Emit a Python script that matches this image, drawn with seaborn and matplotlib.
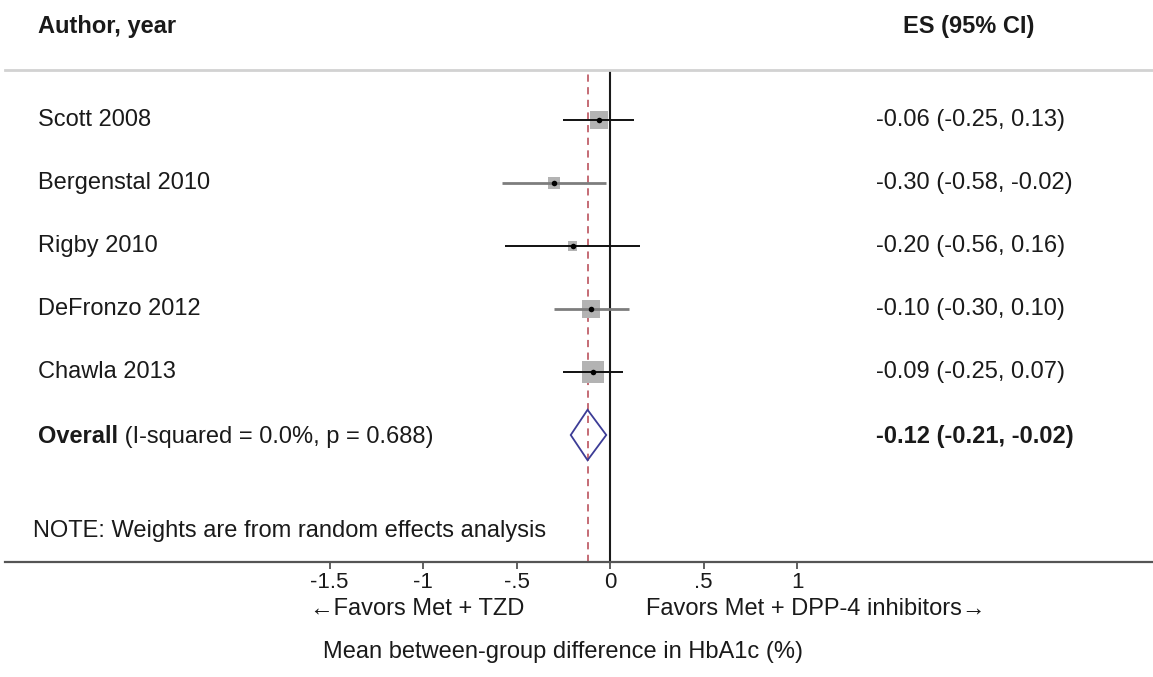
import matplotlib
matplotlib.use("Agg")
import matplotlib.pyplot as plt
import matplotlib.transforms as mtransforms
import pandas as pd
import seaborn as sns

# Study-level results: mean difference in HbA1c (%) with 95% CI
studies = ["Scott 2008", "Bergenstal 2010", "Rigby 2010", "DeFronzo 2012", "Chawla 2013"]
es = [-0.06, -0.30, -0.20, -0.10, -0.09]
ci_low = [-0.25, -0.58, -0.56, -0.30, -0.25]
ci_high = [0.13, -0.02, 0.16, 0.10, 0.07]
weights = [24.6, 11.4, 6.9, 22.3, 34.8]  # random-effects weights (%)

# Pooled estimate
overall_es = -0.12
overall_low = -0.21
overall_high = -0.02
i_squared = "0.0%"
p_het = "0.688"

tick_values = [-1.5, -1, -0.5, 0, 0.5, 1]
tick_labels = ["-1.5", "-1", "-.5", "0", ".5", "1"]

sns.set_theme(style="white")
plt.rcParams["font.family"] = ["Liberation Sans", "DejaVu Sans"]
FS = 17

W, H = 1153, 677
fig = plt.figure(figsize=(W / 100, H / 100), dpi=100)
fig.patch.set_facecolor("white")

# axes spans the full plotting band between the header rule and the x axis
left_px, right_px, top_px, bottom_px = 5, 1153, 70, 562
ax = fig.add_axes([left_px / W, (H - bottom_px) / H,
                   (right_px - left_px) / W, (bottom_px - top_px) / H])
x0_px, px_per_unit = 610, 187
ax.set_xlim((left_px - x0_px) / px_per_unit, (right_px - x0_px) / px_per_unit)
row0_px, row_px = 120, 63
ax.set_ylim((bottom_px - row0_px) / row_px, (top_px - row0_px) / row_px)

df = pd.DataFrame({
    "study": studies, "es": es, "lo": ci_low, "hi": ci_high,
    "weight": weights, "row": range(len(studies)),
})
overall_row = len(studies)

# weight boxes (area proportional to weight)
sns.scatterplot(data=df, x="es", y="row", size="weight", sizes=(0, 721),
                size_norm=(0, 100), marker="s", color="#b3b3b3",
                linewidth=0, legend=False, ax=ax, zorder=2)

# confidence intervals
line_colors = ["#111111", "#7d7d7d", "#111111", "#7d7d7d", "#111111"]
line_widths = [1.4, 2.0, 1.4, 2.0, 1.4]
ax.hlines(df["row"], df["lo"], df["hi"], colors=line_colors,
          linewidths=line_widths, zorder=3)

# point estimates
sns.scatterplot(data=df, x="es", y="row", marker="o", color="black", s=16,
                linewidth=0, legend=False, ax=ax, zorder=4)

# reference lines
ax.axvline(0, color="#1a1a1a", lw=1.5, zorder=1)
ax.axvline(overall_es, color="#c0606a", lw=1.3, ls=(0, (4, 3)), zorder=1)

# pooled diamond
h = 0.40
ax.fill([overall_low, overall_es, overall_high, overall_es],
        [overall_row, overall_row - h, overall_row, overall_row + h],
        facecolor="none", edgecolor="#3c3c96", lw=1.3, zorder=5)

# axes styling
for side in ("left", "right"):
    ax.spines[side].set_visible(False)
ax.spines["top"].set_color("#d2d2d2")
ax.spines["top"].set_linewidth(2.0)
ax.spines["bottom"].set_color("#555555")
ax.spines["bottom"].set_linewidth(1.6)
ax.set_yticks([])
ax.set_xticks(tick_values)
ax.set_xticklabels(tick_labels)
ax.tick_params(axis="x", direction="out", length=5, width=1.2, color="#444444",
               labelsize=16, labelcolor="#1a1a1a", pad=2, bottom=True)
ax.set_xlabel("")
ax.set_ylabel("")

# text columns
tr_rows = mtransforms.blended_transform_factory(fig.transFigure, ax.transData)
tr_bottom = mtransforms.blended_transform_factory(ax.transData, fig.transFigure)
label_x = 38 / W
es_x = 876 / W
txt = "#1a1a1a"

for _, r in df.iterrows():
    ax.text(label_x, r["row"], r["study"], transform=tr_rows, fontsize=FS,
            color=txt, va="center", ha="left")
    ax.text(es_x, r["row"], f"{r['es']:.2f} ({r['lo']:.2f}, {r['hi']:.2f})",
            transform=tr_rows, fontsize=FS, color=txt, va="center", ha="left")

t_over = ax.text(label_x, overall_row + 0.03, "Overall", transform=tr_rows,
                 fontsize=FS, fontweight="bold", color=txt, va="center", ha="left")
ax.annotate(f" (I-squared = {i_squared}, p = {p_het})", xy=(1, 0),
            xycoords=t_over, va="bottom", ha="left", fontsize=FS, color=txt)
ax.text(es_x, overall_row + 0.03,
        f"{overall_es:.2f} ({overall_low:.2f}, {overall_high:.2f})",
        transform=tr_rows, fontsize=FS, fontweight="bold", color=txt,
        va="center", ha="left")

ax.text(33 / W, 6.52, "NOTE: Weights are from random effects analysis",
        transform=tr_rows, fontsize=FS, color=txt, va="center", ha="left")

# headers
fig.text(38 / W, 1 - 27 / H, "Author, year", fontsize=FS, fontweight="bold",
         color=txt, va="center", ha="left")
fig.text(903 / W, 1 - 27 / H, "ES (95% CI)", fontsize=FS, fontweight="bold",
         color=txt, va="center", ha="left")

# direction labels and axis title
ax.text(-0.46, 1 - 609 / H, "\u2190Favors Met + TZD", transform=tr_bottom,
        fontsize=FS, color=txt, va="center", ha="right")
ax.text(0.19, 1 - 609 / H, "Favors Met + DPP-4 inhibitors\u2192", transform=tr_bottom,
        fontsize=FS, color=txt, va="center", ha="left")
ax.text(-0.25, 1 - 652 / H, "Mean between-group difference in HbA1c (%)",
        transform=tr_bottom, fontsize=FS, color=txt, va="center", ha="center")

fig.savefig("out.png", dpi=100, facecolor="white")
